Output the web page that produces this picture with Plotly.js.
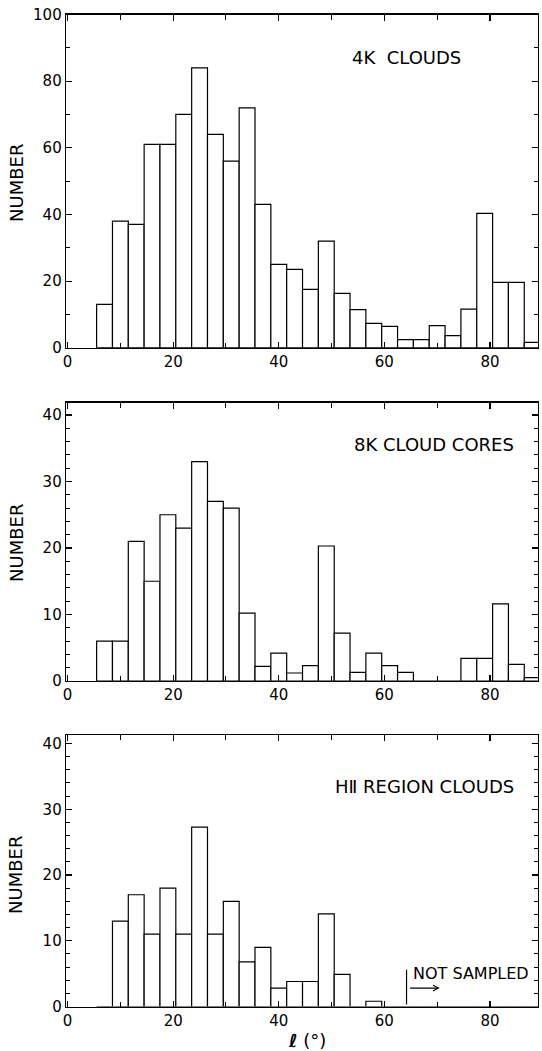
<!DOCTYPE html>
<html>
<head>
<meta charset="utf-8">
<script src="https://cdn.plot.ly/plotly-3.0.1.min.js"></script>
<style>html,body{margin:0;padding:0;background:#fff;}#chart{width:542px;height:1051px;}</style>
</head>
<body>
<div id="chart"></div>
<script>
// Galactic longitude bins (3 deg wide), bin centers in degrees
const binCenters = [7,10,13,16,19,22,25,28,31,34,37,40,43,46,49,52,55,58,61,64,67,70,73,76,79,82,85,88];
// Panel 1: 4K clouds
const clouds4K = [13,38,37,61,61,70,84,64,56,72,43,25,23.5,17.5,32,16.3,11.4,7.3,6.4,2.4,2.4,6.6,3.6,11.6,40.3,19.6,19.6,1.6];
// Panel 2: 8K cloud cores
const cores8K = [6,6,21,15,25,23,33,27,26,10.2,2.2,4.2,1.2,2.3,20.3,7.2,1.3,4.2,2.3,1.3,0,0,0,3.4,3.4,11.6,2.5,0.5];
// Panel 3: HII region clouds
const hiiClouds = [0,13,17,11,18,11,27.3,11,16,6.8,9,2.8,3.8,3.8,14.1,4.9,0,0.8,0,0,0,0,0,0,0,0,0,0];
const panelLabels = ["4K  CLOUDS", "8K CLOUD CORES", "H\u2161 REGION CLOUDS"];
const yTitle = "NUMBER";
const xTitle = "<b><i>\u2113</i></b> (\u00b0)";
const notSampledLabel = "NOT SAMPLED";

const W = 542, H = 1051;
const FONT = "DejaVu Sans";
const py = y => 1 - y / H;
const xdom = [66 / W, 538 / W];

function barTrace(vals, xa, ya) {
  return {
    type: "bar", x: binCenters, y: vals, width: 3,
    xaxis: xa, yaxis: ya, showlegend: false, hoverinfo: "skip",
    marker: { color: "white", line: { color: "black", width: 1.2 } }
  };
}

function xAxis(anchor) {
  return {
    domain: xdom, anchor: anchor, range: [-0.3, 89.1],
    showline: true, linecolor: "black", linewidth: 1.3, mirror: "ticks",
    ticks: "inside", ticklen: 6, tickwidth: 1.1, tickcolor: "black",
    tickvals: [0, 20, 40, 60, 80], showgrid: false, zeroline: false,
    tickfont: { family: FONT, size: 15, color: "black" },
    minor: { tickvals: [10, 30, 50, 70], ticks: "inside", ticklen: 5, tickwidth: 1, tickcolor: "black", showgrid: false },
    fixedrange: true
  };
}
function yAxis(anchor, dom, range, dtick, mdtick) {
  return {
    domain: dom, anchor: anchor, range: range,
    showline: true, linecolor: "black", linewidth: 1.3, mirror: "ticks",
    ticks: "inside", ticklen: 6, tickwidth: 1.1, tickcolor: "black",
    dtick: dtick, tick0: 0, showgrid: false, zeroline: false,
    tickfont: { family: FONT, size: 15, color: "black" },
    minor: { dtick: mdtick, ticks: "inside", ticklen: 4, tickwidth: 1, tickcolor: "black", showgrid: false },
    fixedrange: true
  };
}

const data = [
  barTrace(clouds4K, "x", "y"),
  barTrace(cores8K, "x2", "y2"),
  barTrace(hiiClouds, "x3", "y3")
];

const domTop = [py(347.7), py(14.5)];
const domMid = [py(681), py(402.7)];
const domBot = [py(1006.5), py(735)];

function vTitle(ycenter) {
  return { xref: "paper", yref: "paper", x: 16 / W, y: py(ycenter), text: yTitle, showarrow: false,
           textangle: -90, xanchor: "center", yanchor: "middle",
           font: { family: FONT, size: 18, color: "black" } };
}
function panelLabel(txt, xa, ya, x, y) {
  return { xref: xa, yref: ya, x: x, y: y, text: txt, showarrow: false, xanchor: "center", yanchor: "middle",
           font: { family: FONT, size: 18, color: "black" } };
}

const layout = {
  width: W, height: H,
  margin: { l: 0, r: 0, t: 0, b: 0, pad: 0 },
  paper_bgcolor: "white", plot_bgcolor: "white",
  barmode: "overlay", bargap: 0,
  xaxis: xAxis("y"), yaxis: yAxis("x", domTop, [0, 100], 20, 10),
  xaxis2: xAxis("y2"), yaxis2: yAxis("x2", domMid, [0, 41.85], 10, 2),
  xaxis3: xAxis("y3"), yaxis3: yAxis("x3", domBot, [0, 41.3], 10, 2),
  shapes: [
    { type: "line", xref: "x3", yref: "y3", x0: 64.2, x1: 64.2, y0: 0.3, y1: 5.6,
      line: { color: "black", width: 1.2 } }
  ],
  annotations: [
    vTitle(183), vTitle(543), vTitle(875),
    panelLabel(panelLabels[0], "x", "y", 64.1, 87.2),
    panelLabel(panelLabels[1], "x2", "y2", 69.4, 35.6),
    panelLabel(panelLabels[2], "x3", "y3", 67.6, 33.5),
    { xref: "x3", yref: "y3", x: 65.1, y: 5.0, text: notSampledLabel, showarrow: false,
      xanchor: "left", yanchor: "middle", font: { family: FONT, size: 16, color: "black" } },
    { xref: "x3", yref: "y3", x: 70.5, y: 2.8, axref: "x3", ayref: "y3", ax: 64.6, ay: 2.8,
      text: "", showarrow: true, arrowhead: 5, arrowsize: 1, arrowwidth: 1.1, arrowcolor: "black", standoff: 0, startstandoff: 0 },
    { xref: "paper", yref: "paper", x: 307 / W, y: py(1040), text: xTitle, showarrow: false,
      xanchor: "center", yanchor: "middle", font: { family: FONT, size: 18, color: "black" } }
  ]
};

Plotly.newPlot("chart", data, layout, { staticPlot: true, displayModeBar: false });
</script>
</body>
</html>
